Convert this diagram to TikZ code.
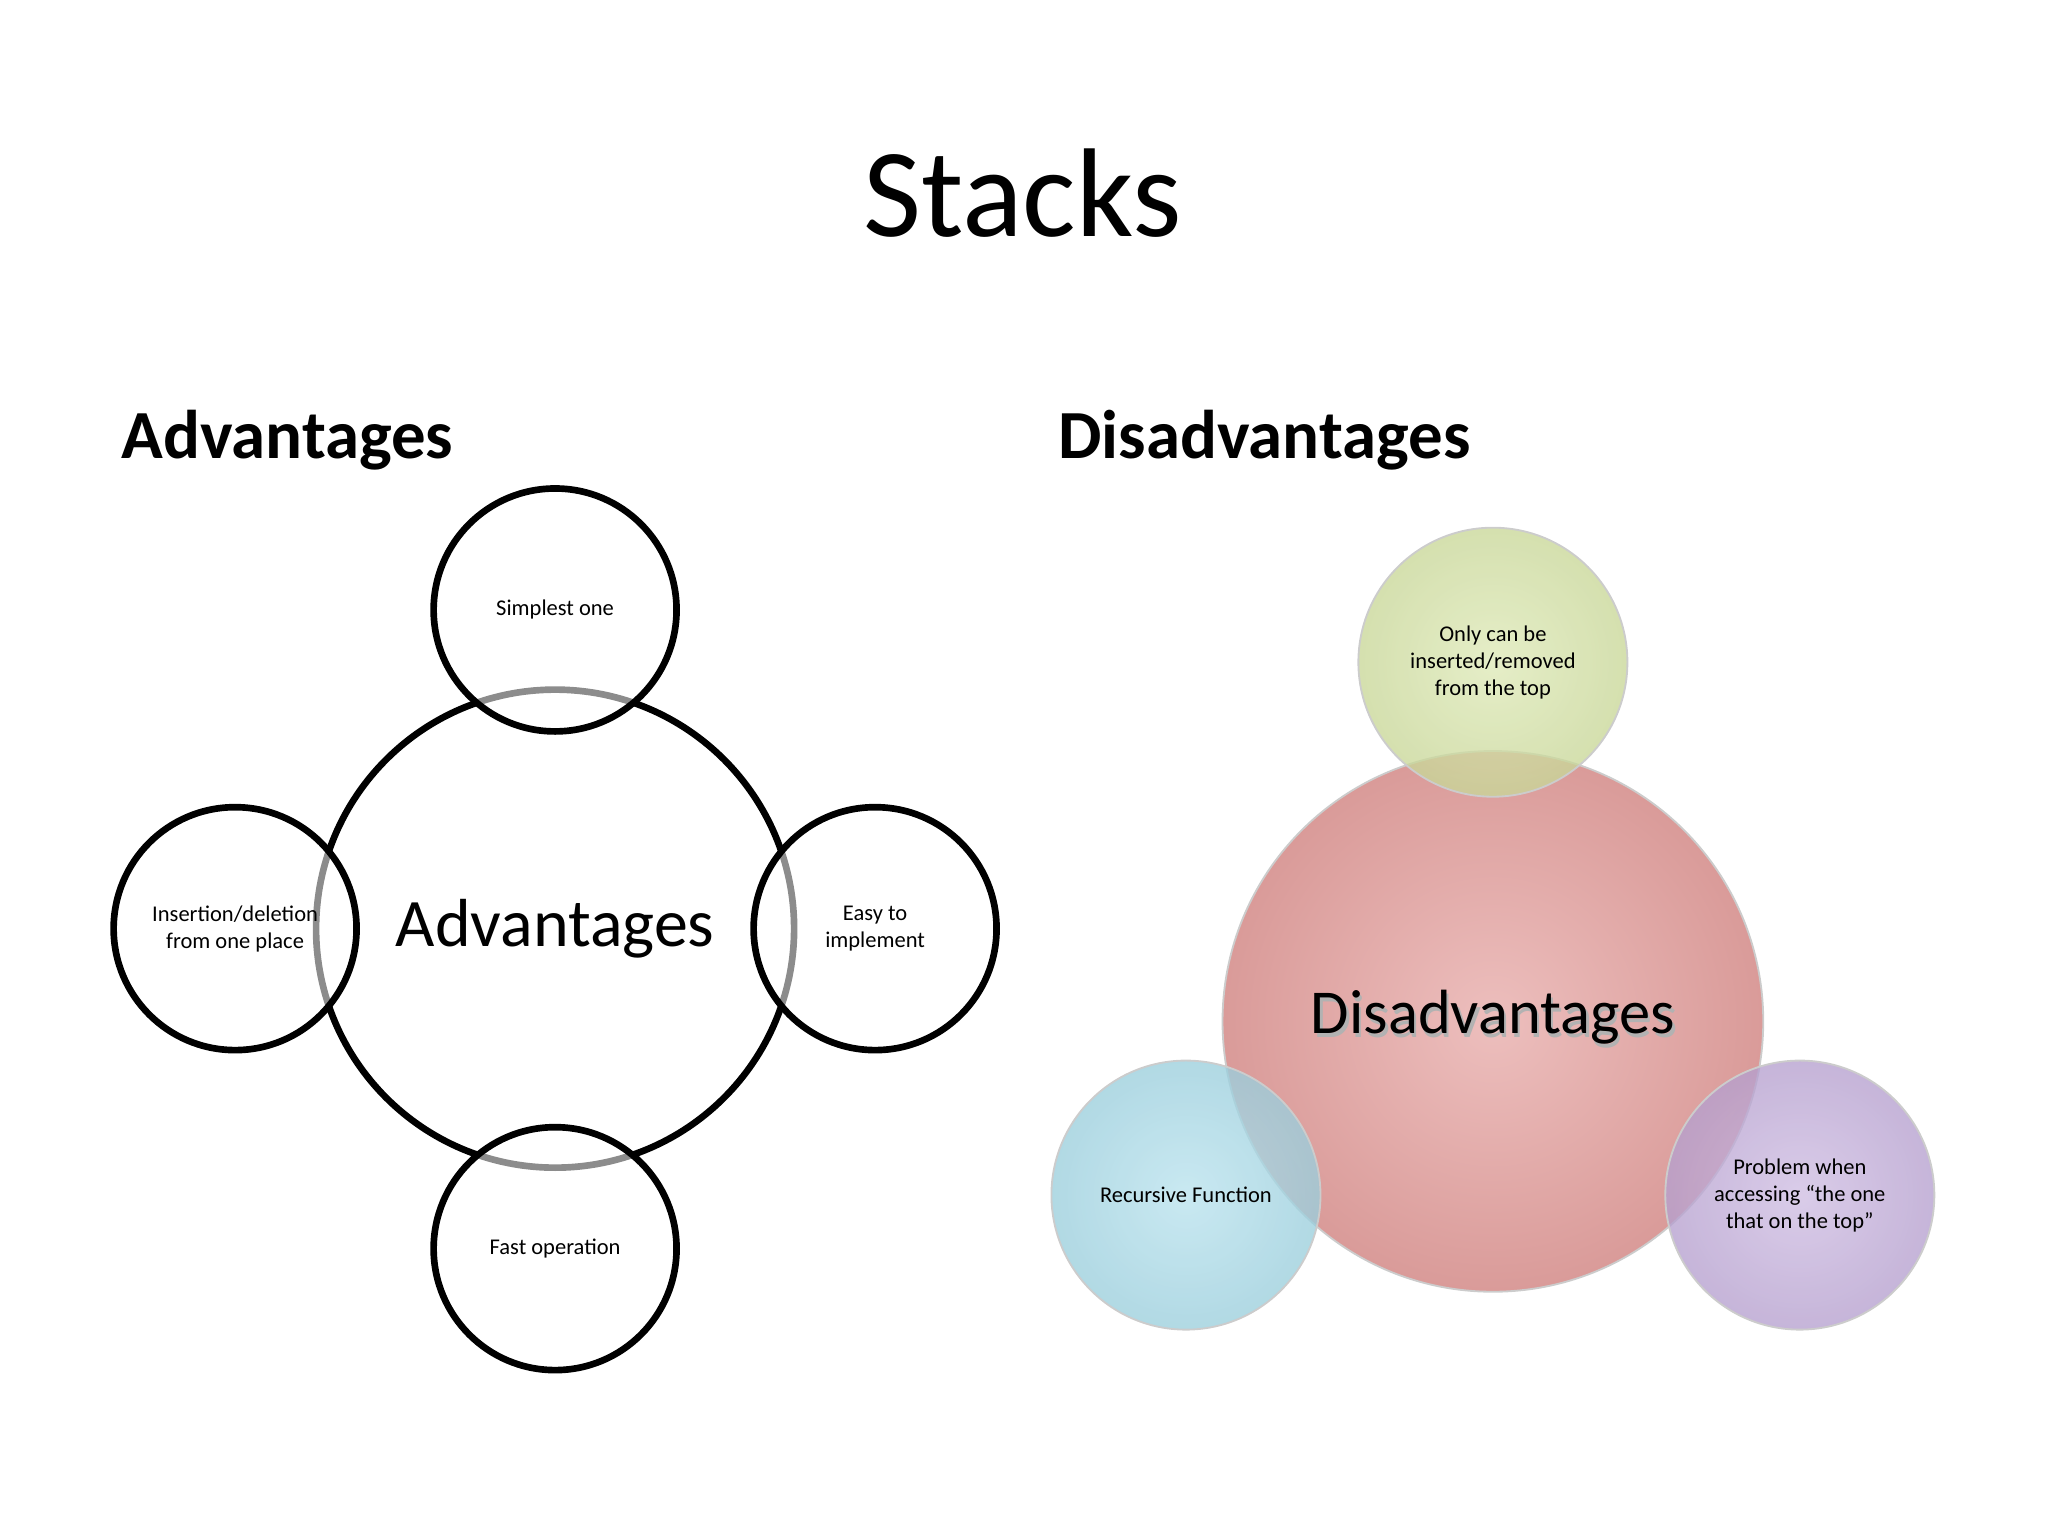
\documentclass[tikz,border=0pt]{standalone}
\usepackage{fontspec}
\setmainfont{Carlito}
\begin{document}
\begin{tikzpicture}[x=0.01cm,y=-0.01cm,
  small/.style={font=\fontsize{4.9}{5.9}\selectfont,align=center},
  ]
\useasboundingbox (0,0) rectangle (1568,1176);
\node[font=\fontsize{27.5}{32}\selectfont] (title) at (783,148) {Stacks};
\node[font=\bfseries\fontsize{15}{18}\selectfont] (adh) at (220,337) {Advantages};
\node[font=\bfseries\fontsize{15}{18}\selectfont] (dish) at (968,337) {Disadvantages};
% left
\draw[line width=1.45pt] (425,711) circle (183);
\foreach \p in {(425,467),(180,711),(670,711),(425,956)}
  \draw[line width=1.45pt,fill=white,fill opacity=0.55] \p circle (93);
\node[font=\fontsize{14.8}{17}\selectfont] (adv) at (425,711) {Advantages};
\node[small] (a1) at (425,467) {Simplest one};
\node[small] (a2) at (180,711) {Insertion/deletion\\from one place};
\node[small] (a3) at (670,711) {Easy to\\implement};
\node[small] (a4) at (425,956) {Fast operation};
% right
\definecolor{pk}{HTML}{E5A3A1}
\definecolor{gr}{HTML}{D3E2A0}
\definecolor{bl}{HTML}{A3D9E8}
\definecolor{pu}{HTML}{BFA8D9}
\shade[inner color=pk!70,outer color=pk!95!black] (1143,782) circle (207);
\draw[black!20] (1143,782) circle (207);
\foreach \p/\c in {(1143,507)/gr,(908,915)/bl,(1378,915)/pu}{
  \shade[inner color=\c!75,outer color=\c!95!black,opacity=0.78] \p circle (103);
  \draw[black!20] \p circle (103);}
\node[font=\fontsize{13.6}{16}\selectfont,text=black!30] at (1145,782) {Disadvantages};
\node[font=\fontsize{13.6}{16}\selectfont] (dis) at (1143,779) {Disadvantages};
\node[small] (d1) at (1143,507) {Only can be\\inserted/removed\\from the top};
\node[small] (d2) at (908,915) {Recursive Function};
\node[small] (d3) at (1378,915) {Problem when\\accessing “the one\\that on the top”};
\end{tikzpicture}
\end{document}
